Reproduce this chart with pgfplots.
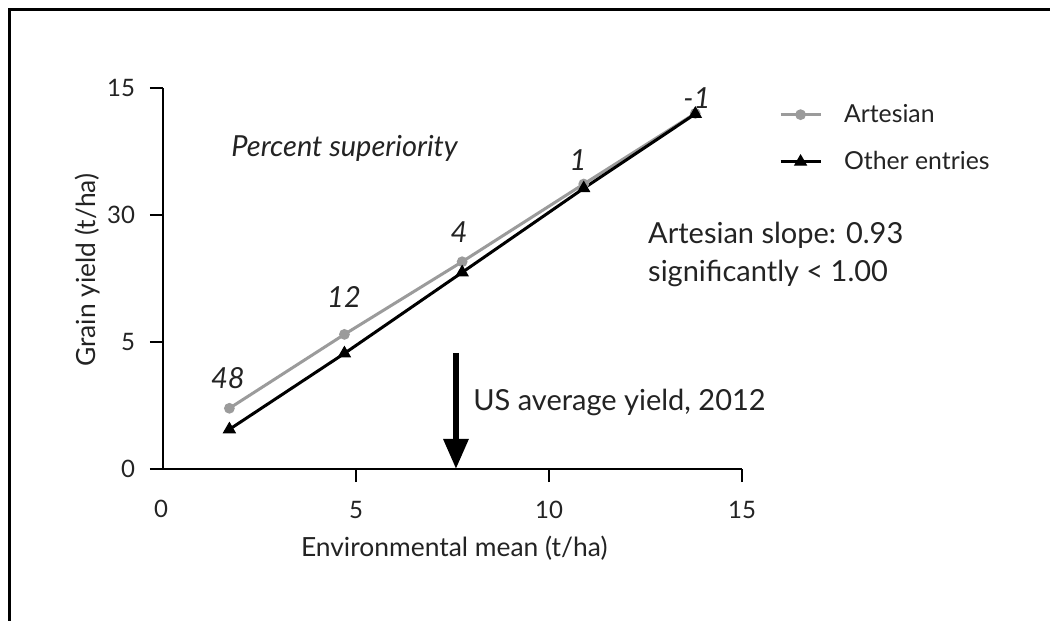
\documentclass[border=0pt]{standalone}
\usepackage{fontspec}
\setmainfont{Lato}
\usepackage{pgfplots}
\pgfplotsset{compat=1.18}
\usetikzlibrary{arrows.meta}
\definecolor{artgray}{RGB}{155,155,155}
\definecolor{txt}{RGB}{35,35,35}
\begin{document}
\begin{tikzpicture}[x=0.5pt,y=0.5pt]
\useasboundingbox (0,0) rectangle (1050,621);
\draw[line width=1.5pt] (9,0) -- (9,611) -- (1050,611);
\begin{axis}[
 at={(81.5pt,76pt)}, anchor=south west,
 scale only axis, width=289.5pt, height=190.5pt,
 xmin=0, xmax=15, ymin=0, ymax=15,
 clip=false,
 axis lines=left, axis line style={-, line width=1pt, black},
 tick align=outside, major tick length=6.5pt, tick style={line width=1pt, black},
 xtick={5,10,15}, xticklabels={5,10,15},
 extra x ticks={0}, extra x tick labels={0},
 extra x tick style={major tick length=0pt, xticklabel style={yshift=-6pt, xshift=-1pt}},
 ytick={0,5,10,15}, yticklabels={0,5,30,15},
 tick label style={font=\fontsize{12}{14}\selectfont, text=txt},
 xticklabel style={yshift=-6pt},
 yticklabel style={xshift=-4pt},
 xlabel={Environmental mean (t/ha)}, ylabel={Grain yield (t/ha)},
 label style={text=txt, font=\fontsize{13.2}{16}\selectfont},
 xlabel style={at={(axis description cs:0.503,-0.207)}, anchor=center},
 ylabel style={at={(axis description cs:-0.131,0.522)}, anchor=center},
 legend style={draw=none, fill=none, at={(axis description cs:1.053,0.868)}, anchor=west,
   font=\fontsize{12.4}{15}\selectfont, text=txt, row sep=9pt,
   /tikz/every odd column/.append style={column sep=9pt}},
 legend cell align=left,
 legend image code/.code={\draw[mark repeat=2,mark phase=2,#1] plot coordinates {(0pt,0pt) (10pt,0pt) (20pt,0pt)};},
]
\addplot[artgray, line width=1.5pt, mark=*, mark size=1.9pt, mark options={fill=artgray, draw=artgray}]
 coordinates {(1.72,2.39) (4.70,5.30) (7.75,8.16) (10.90,11.22) (13.79,14.0)};
\addlegendentry{Artesian}
\addplot[black, line width=1.5pt, mark=triangle*, mark size=3.4pt, mark options={fill=black, line width=0.5pt}]
 coordinates {(1.72,1.56) (4.70,4.55) (7.75,7.74) (10.90,11.05) (13.79,13.98)};
\addlegendentry{Other entries}
\node[font=\fontsize{14.5}{17}\selectfont\itshape, text=txt] at (axis cs:1.68,3.58) {48};
\node[font=\fontsize{14.5}{17}\selectfont\itshape, text=txt] at (axis cs:4.69,6.77) {12};
\node[font=\fontsize{14.5}{17}\selectfont\itshape, text=txt] at (axis cs:7.67,9.33) {4};
\node[font=\fontsize{14.5}{17}\selectfont\itshape, text=txt] at (axis cs:10.75,12.17) {1};
\node[font=\fontsize{14.5}{17}\selectfont\itshape, text=txt] at (axis cs:13.83,14.61) {-1};
\node[font=\fontsize{14.5}{17}\selectfont\itshape, text=txt, anchor=west, inner sep=0pt] at (axis cs:1.76,12.64) {Percent superiority};
\node[font=\fontsize{14.5}{19}\selectfont, text=txt, anchor=west, align=left, inner sep=0pt] at (axis cs:12.56,8.46) {Artesian slope: 0.93\\significantly < 1.00};
\draw[line width=3pt, -{Triangle[length=15pt,width=12pt]}] (axis cs:7.59,4.57) -- (axis cs:7.59,0);
\node[font=\fontsize{14.5}{17}\selectfont, text=txt, anchor=west, inner sep=0pt] at (axis cs:8.03,2.6) {US average yield, 2012};
\end{axis}
\end{tikzpicture}
\end{document}
